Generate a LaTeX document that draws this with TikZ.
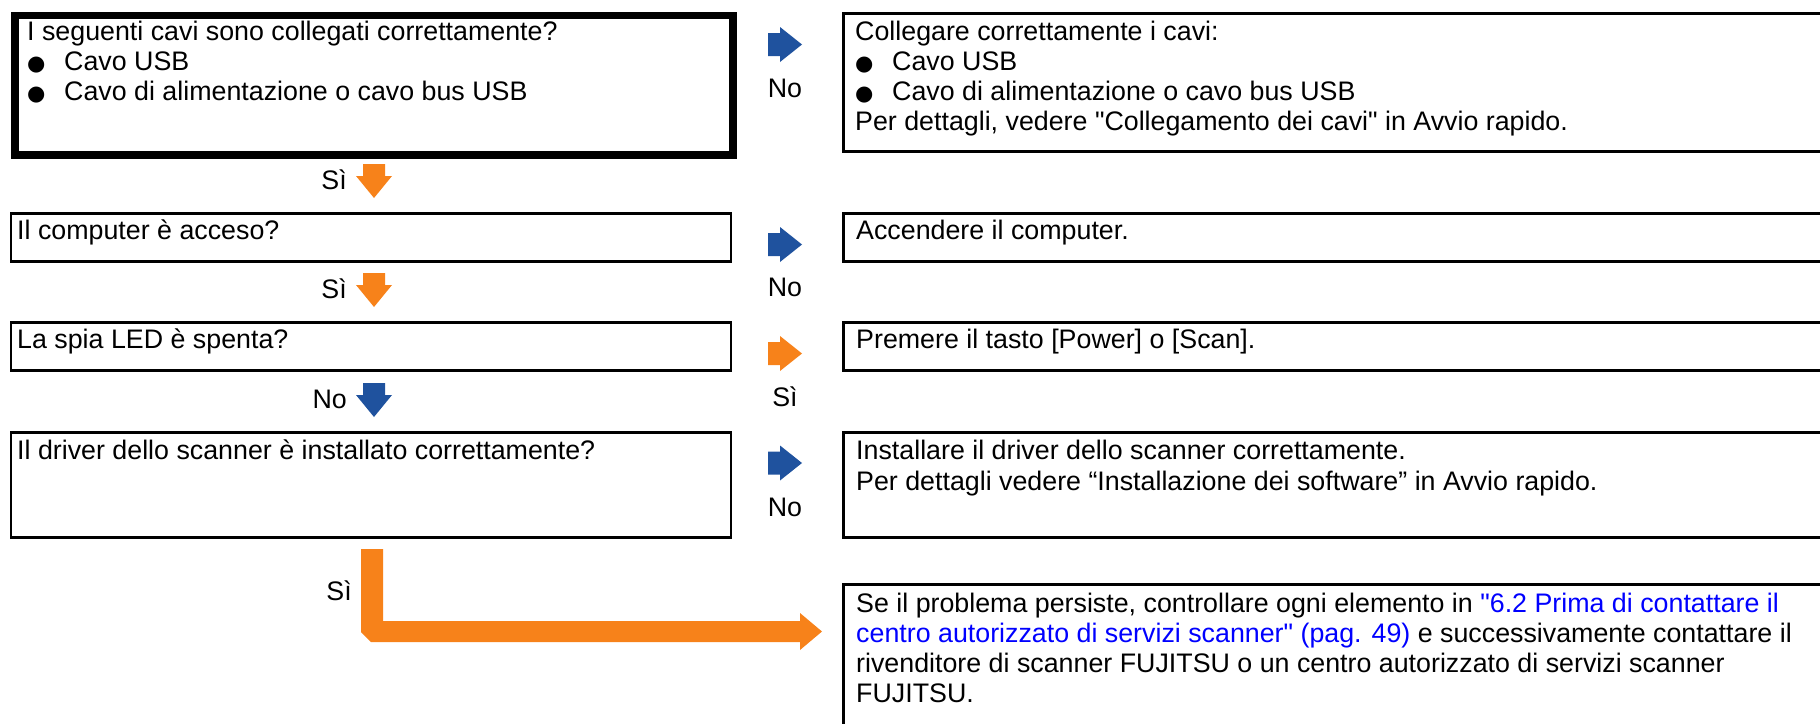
\documentclass[tikz,border=0pt]{standalone}
\usepackage{fontspec}
\newfontfamily\mainf{Liberation Sans}
\newfontfamily\bulf{DejaVu Sans}
\definecolor{orangeA}{RGB}{247,130,26}
\definecolor{blueA}{RGB}{31,82,158}
\definecolor{linkblue}{RGB}{0,0,255}
\newcommand{\bulmark}{\makebox[37pt][l]{\hspace{0pt}{\bulf\fontsize{21}{21}\selectfont ●}}}
\begin{document}
\begin{tikzpicture}[x=1pt,y=-1pt,
  box/.style={draw, line width=2.5pt, inner sep=0pt, anchor=north west},
  lbox/.style={box, minimum width=720pt},
  rbox/.style={box, minimum width=1000pt},
  txt/.style={anchor=base west, inner sep=0pt, font=\mainf\fontsize{26.8}{30}\selectfont},
  lbl/.style={anchor=base, inner sep=0pt, font=\mainf\fontsize{26.8}{30}\selectfont},
  rarr/.pic={\fill (-17,-11.5) -- (-5,-11.5) -- (-5,-17.5) -- (17,0) -- (-5,17.5) -- (-5,11.5) -- (-17,11.5) -- cycle;},
  darr/.pic={\fill (-11,-17) -- (11,-17) -- (11,-5) -- (18,-5) -- (0,17) -- (-18,-5) -- (-11,-5) -- cycle;}
]
\useasboundingbox (0,0) rectangle (1820,723);
\clip (0,0) rectangle (1820,723);

% left question boxes
\node[draw, line width=7.5pt, inner sep=0pt, anchor=north west, minimum width=718pt, minimum height=139.5pt] (q1) at (11,11.5) {};
\node[lbox, minimum height=48pt] (q2) at (9.5,212) {};
\node[lbox, minimum height=48pt] (q3) at (9.5,321) {};
\node[lbox, minimum height=105pt] (q4) at (9.5,431) {};

% right answer boxes
\node[rbox, minimum height=138pt] (r1) at (842,12) {};
\node[rbox, minimum height=48pt] (r2) at (842,212) {};
\node[rbox, minimum height=48pt] (r3) at (842,321) {};
\node[rbox, minimum height=105pt] (r4) at (842,431) {};
\node[rbox, minimum height=160pt] (r5) at (842,583) {};

% texts of question boxes
\node[txt] (q1a) at (27,40) {I seguenti cavi sono collegati correttamente?};
\node[txt] (q1b) at (27,70) {\bulmark Cavo USB};
\node[txt] (q1c) at (27,100) {\bulmark Cavo di alimentazione o cavo bus USB};
\node[txt] (q2a) at (17,239) {Il computer è acceso?};
\node[txt] (q3a) at (17,348) {La spia LED è spenta?};
\node[txt] (q4a) at (17,459) {Il driver dello scanner è installato correttamente?};

% texts of answer boxes
\node[txt] (r1a) at (855,40) {Collegare correttamente i cavi:};
\node[txt] (r1b) at (855,70) {\bulmark Cavo USB};
\node[txt] (r1c) at (855,100) {\bulmark Cavo di alimentazione o cavo bus USB};
\node[txt] (r1d) at (855,130) {Per dettagli, vedere "Collegamento dei cavi" in Avvio rapido.};
\node[txt] (r2a) at (856,239) {Accendere il computer.};
\node[txt] (r3a) at (856,348) {Premere il tasto [Power] o [Scan].};
\node[txt] (r4a) at (856,459) {Installare il driver dello scanner correttamente.};
\node[txt] (r4b) at (856,490) {Per dettagli vedere “Installazione dei software” in Avvio rapido.};
\node[txt] (r5a) at (856,612) {Se il problema persiste, controllare ogni elemento in \textcolor{linkblue}{"6.2 Prima di contattare il}};
\node[txt] (r5b) at (856,642) {\textcolor{linkblue}{centro autorizzato di servizi scanner" (pag. 49)} e successivamente contattare il};
\node[txt] (r5c) at (856,672) {rivenditore di scanner FUJITSU o un centro autorizzato di servizi scanner};
\node[txt] (r5d) at (856,702) {FUJITSU.};

% right-pointing block arrows with labels
\pic[color=blueA] at (785,44.5) {rarr};
\node[lbl] (l1) at (785,97) {No};
\pic[color=blueA] at (785,244.5) {rarr};
\node[lbl] (l2) at (785,296) {No};
\pic[color=orangeA] at (785,353.5) {rarr};
\node[lbl] (l3) at (785,406) {Sì};
\pic[color=blueA] at (785,463) {rarr};
\node[lbl] (l4) at (785,516) {No};

% downward block arrows with labels
\pic[color=orangeA] at (374,181) {darr};
\node[lbl, anchor=base east] (d1) at (347,189) {Sì};
\pic[color=orangeA] at (374,290) {darr};
\node[lbl, anchor=base east] (d2) at (347,298) {Sì};
\pic[color=blueA] at (374,400) {darr};
\node[lbl, anchor=base east] (d3) at (347,408) {No};

% L-shaped arrow to the final box
\fill[orangeA] (361,549) -- (383,549) -- (383,621) -- (800,621) -- (800,613) -- (822,631.5) -- (800,650) -- (800,642) -- (371,642) -- (361,632) -- cycle;
\node[lbl, anchor=base east] (d4) at (352,600) {Sì};
\end{tikzpicture}
\end{document}
